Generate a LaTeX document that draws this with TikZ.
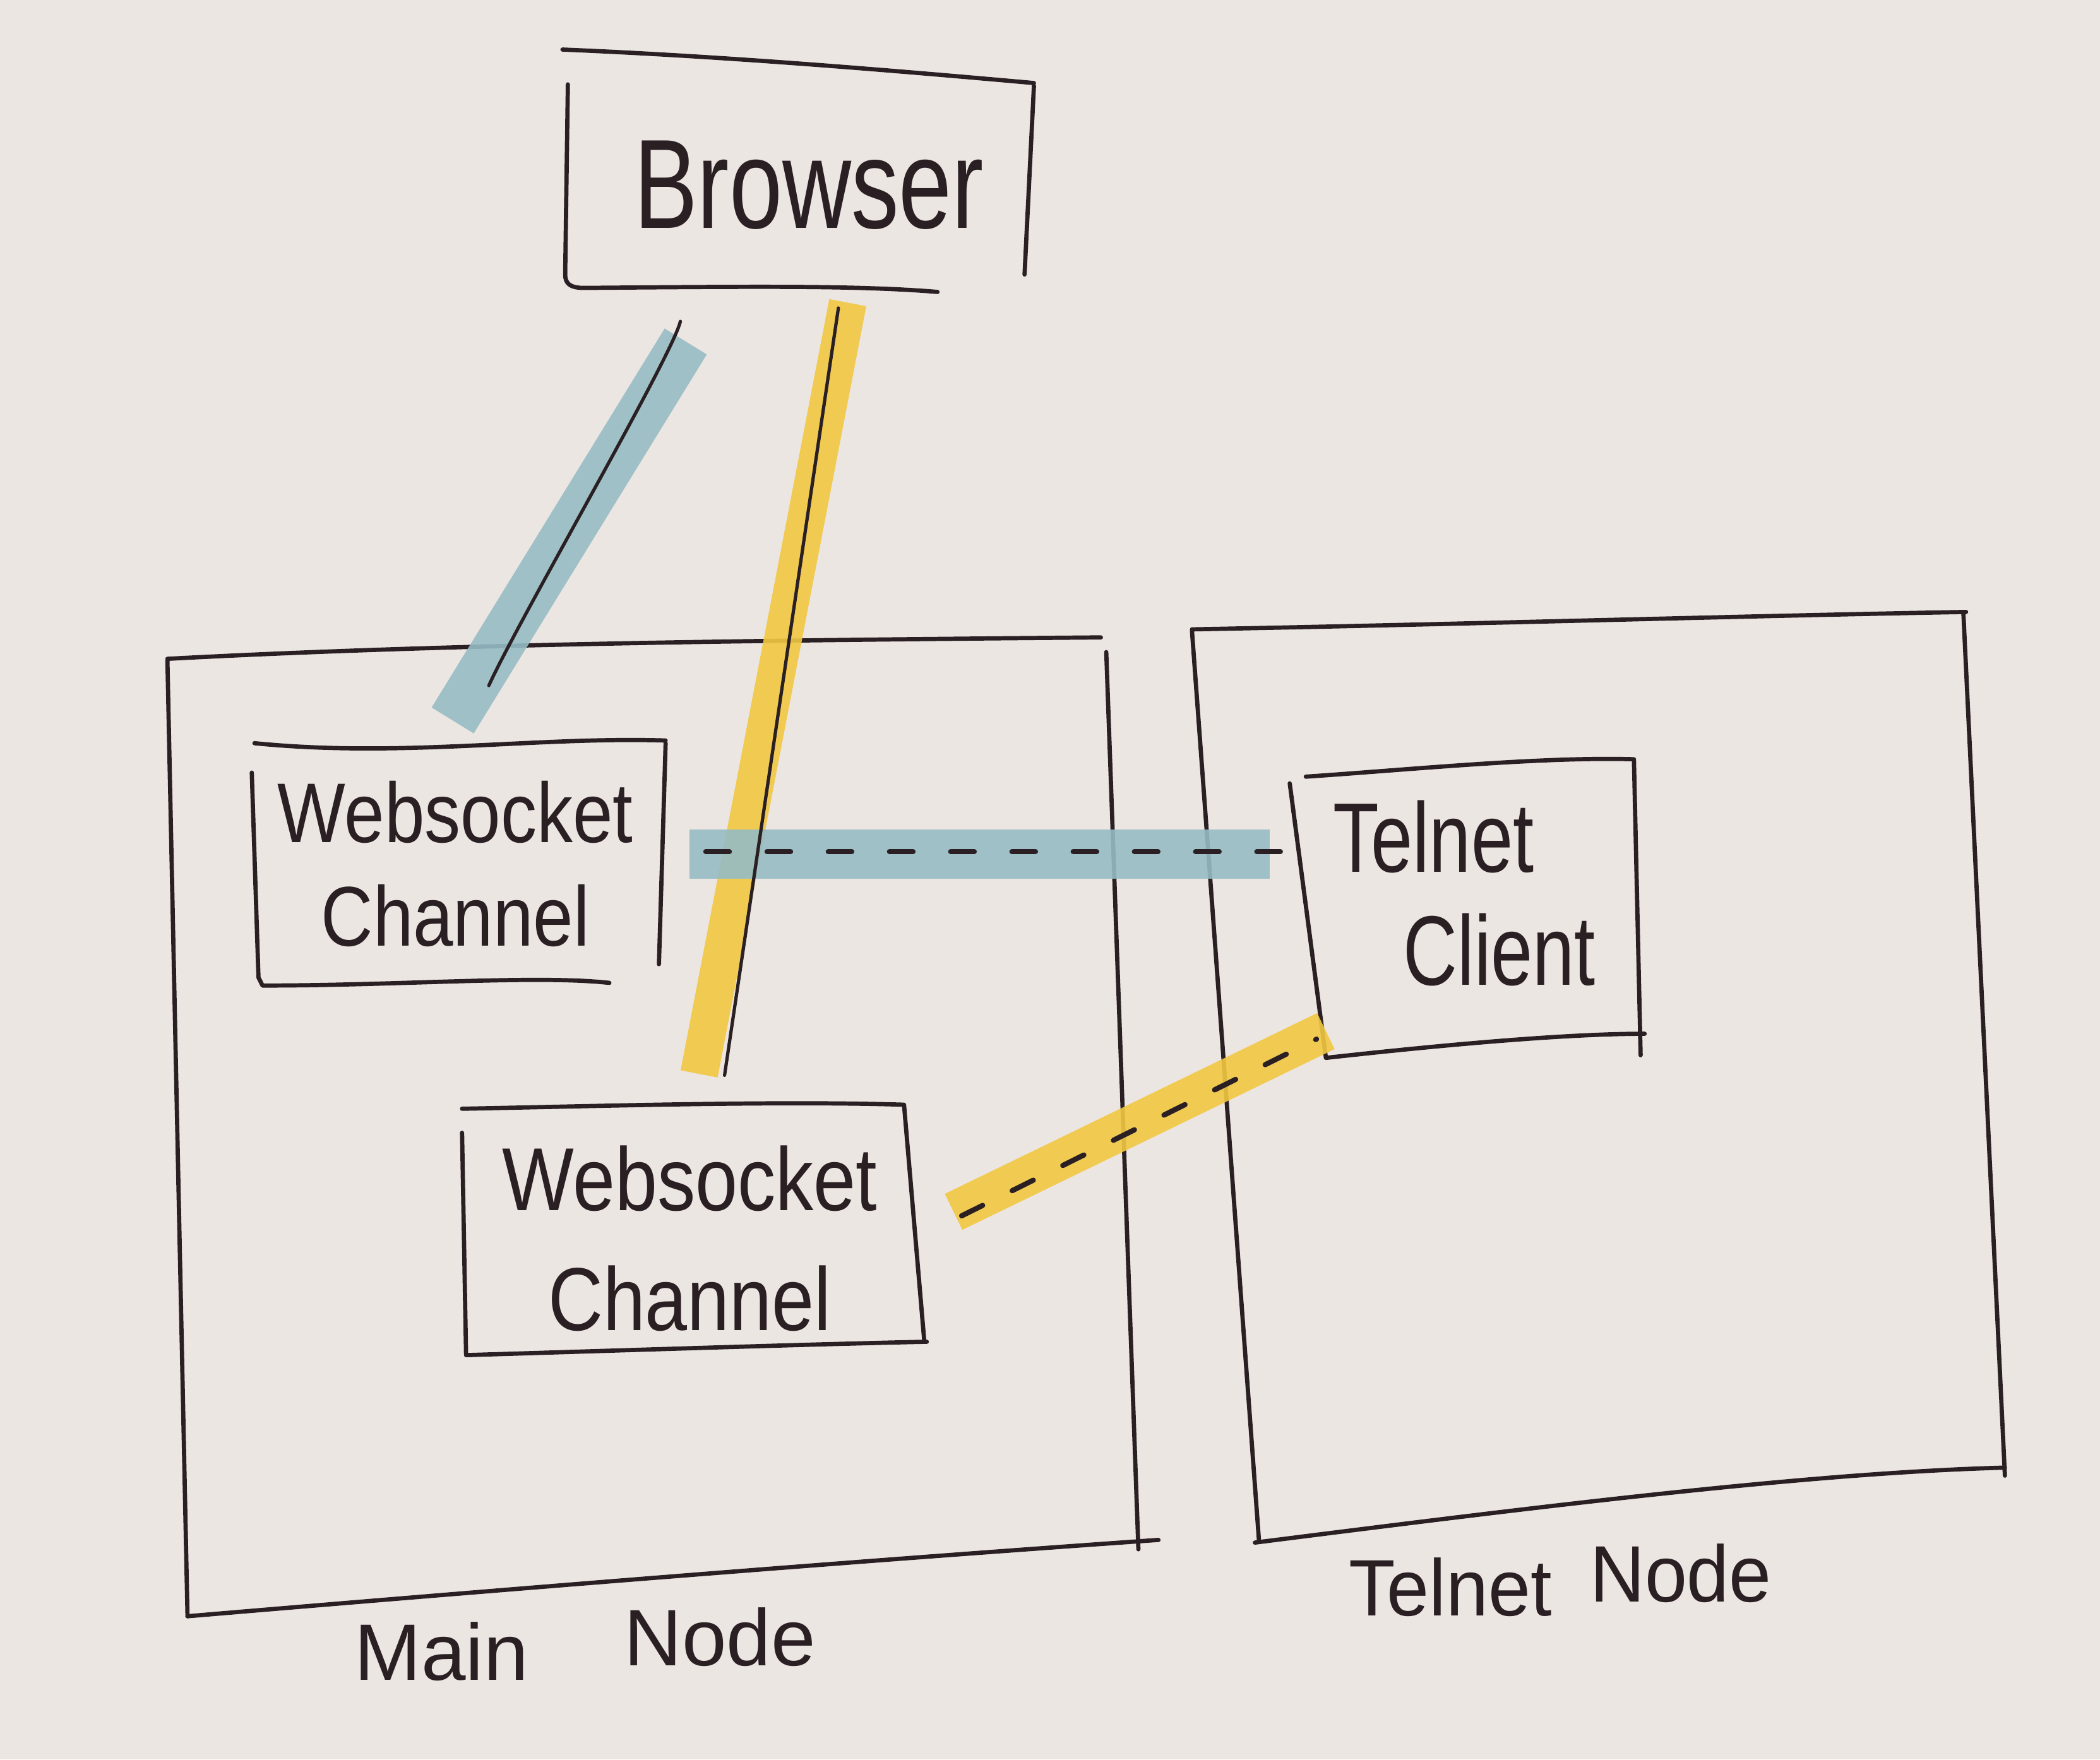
\documentclass[tikz,border=0pt]{standalone}
\usepackage{fontspec}
\setmainfont{Liberation Sans}
\usetikzlibrary{calc}
\definecolor{paper}{HTML}{ECE6E2}
\definecolor{ink}{HTML}{2A2024}
\definecolor{hlblue}{HTML}{96BCC4}
\definecolor{hlyellow}{HTML}{F2C843}
\newcommand{\sx}[2]{\scalebox{#1}[1]{#2}}
\tikzset{
  pen/.style={draw=ink, line width=0.9pt, line cap=round, line join=round},
  thinpen/.style={draw=ink, line width=0.7pt, line cap=round},
  dashpen/.style={draw=ink, line width=1.1pt, line cap=round, dash pattern=on 5pt off 8pt},
  hlb/.style={draw=hlblue, line width=10.5pt, line cap=butt, opacity=0.9},
  hly/.style={draw=hlyellow, line width=8pt, line cap=butt, opacity=0.9},
  txt/.style={text=ink, align=center, inner sep=0pt},
}
\begin{document}
\begin{tikzpicture}[x=0.01cm, y=-0.01cm]
\fill[paper] (0,0) rectangle (1568,1314);
\useasboundingbox (0,0) rectangle (1568,1314);

% ---- text nodes (boxes) ----
\node[txt, font=\fontsize{27}{30}\selectfont] (browser) at (604,138) {\sx{.75}{Browser}};
\node[txt, font=\fontsize{18}{22}\selectfont] (ws1) at (340,645) {\sx{.85}{Websocket}\\\sx{.85}{Channel}};
\node[txt, font=\fontsize{19}{25.5}\selectfont] (ws2) at (515,925) {\sx{.85}{Websocket}\\\sx{.85}{Channel}};
\node[txt, font=\fontsize{21}{24}\selectfont] (tc) at (1095,667) {\sx{.76}{Telnet}\hspace*{14pt}\\\hspace*{14pt}\sx{.76}{Client}};
\node[inner sep=0pt, minimum width=7.15cm, minimum height=7cm] (main) at (487,830) {};
\node[inner sep=0pt, minimum width=5.68cm, minimum height=6.63cm] (telnet) at (1196,793) {};
\node[txt, font=\fontsize{17}{20}\selectfont] (mainlbl) at (437,1228) {Main\hspace{1.2em}\raisebox{3pt}{Node}};
\node[txt, font=\fontsize{17}{20}\selectfont] (telnetlbl) at (1165,1180) {\sx{.95}{Telnet\hspace{0.5em}\raisebox{3pt}{Node}}};

% ---- hand-drawn box outlines ----
% Browser
\draw[pen] (420,37) .. controls (540,42) and (660,52) .. (772,62);
\draw[pen] (424,63) -- (422,205) .. controls (422,212) and (426,215) .. (436,215) .. controls (560,214) and (640,213) .. (700,218);
\draw[pen] (772,64) -- (765,205);
% Main Node
\draw[pen] (125,492) .. controls (350,480) and (600,478) .. (822,476);
\draw[pen] (125,493) -- (140,1207);
\draw[pen] (826,487) -- (850,1157);
\draw[pen] (140,1207) .. controls (400,1185) and (650,1165) .. (865,1150);
% Telnet Node
\draw[pen] (890,470) .. controls (1100,466) and (1300,460) .. (1468,457);
\draw[pen] (890,471) -- (940,1150);
\draw[pen] (1466,458) -- (1497,1102);
\draw[pen] (937,1152) .. controls (1150,1125) and (1350,1100) .. (1497,1096);
% Websocket Channel 1
\draw[pen] (190,555) .. controls (300,566) and (400,550) .. (497,553);
\draw[pen] (188,577) -- (193,730) -- (196,736) .. controls (300,736) and (400,728) .. (455,734);
\draw[pen] (497,555) -- (492,720);
% Websocket Channel 2
\draw[pen] (345,828) .. controls (450,826) and (580,822) .. (675,825) -- (690,1000);
\draw[pen] (345,846) -- (348,1012) .. controls (480,1008) and (600,1004) .. (692,1002);
% Telnet Client
\draw[pen] (975,580) .. controls (1050,575) and (1150,565) .. (1220,567) -- (1225,788);
\draw[pen] (963,585) -- (990,790) .. controls (1080,780) and (1170,772) .. (1228,772);

% ---- connectors ----
% yellow: Browser -> Websocket Channel 2
\coordinate (y1a) at ($(browser)+(29,88)$);
\coordinate (y1b) at ($(ws2)+(7,-123)$);
\draw[hly] (y1a) -- (y1b);
% yellow dashed: Websocket Channel 2 -> Telnet Client
\coordinate (y2a) at ($(ws2)+(197,-20)$);
\coordinate (y2b) at ($(tc)+(-105,103)$);
\draw[hly, line width=8.5pt] (y2a) -- (y2b);
% blue: Browser -> Websocket Channel 1
\coordinate (b1a) at ($(browser)+(-92,117)$);
\coordinate (b1b) at ($(ws1)+(-2,-107)$);
\draw[hlb] (b1a) -- (b1b);
% blue dashed: Websocket Channel 1 -> Telnet Client
\coordinate (b2a) at ($(ws1)+(175,-7)$);
\coordinate (b2b) at ($(tc)+(-147,-29)$);
\draw[hlb] (b2a) -- (b2b);

% ink lines over the highlights
\draw[thinpen] ($(browser)+(-96,102)$) .. controls ($(browser)+(-102,128)$) and ($(ws1)+(45,-178)$) .. ($(ws1)+(25,-133)$);
\draw[thinpen] ($(browser)+(22,92)$) -- ($(ws2)+(26,-122)$);
\draw[dashpen] ($(ws1)+(187,-9)$) -- ($(tc)+(-137,-31)$);
\draw[dashpen, dash pattern=on 5pt off 7pt] ($(ws2)+(203,-17)$) -- ($(tc)+(-112,109)$);
\end{tikzpicture}
\end{document}
